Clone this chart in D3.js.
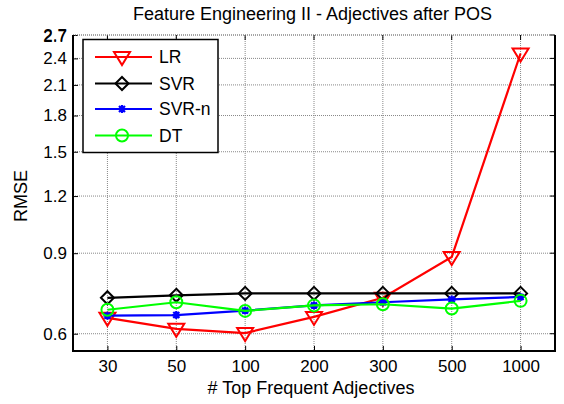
<!DOCTYPE html>
<html><head><meta charset="utf-8">
<script src="https://cdn.jsdelivr.net/npm/d3@7"></script>
<style>body{margin:0;background:#fff}svg{display:block;font-family:"Liberation Sans",Arial,sans-serif}</style>
</head><body><svg id="c" width="564" height="404"></svg>
<script>
const categories = ["30","50","100","200","300","500","1000"];
const yTicks = [0.6,0.9,1.2,1.5,1.8,2.1,2.4,2.7];
const seriesNames = ["LR","SVR","SVR-n","DT"];
const seriesColors = ["#ff0000","#000000","#0000ff","#00ff00"];
const markers = ["triangle","diamond","star","circle"];
const lrValues   = [0.650,0.615,0.602,0.653,0.719,0.883,2.46];
const svrValues  = [0.719,0.728,0.735,0.735,0.735,0.735,0.735];
const svrnValues = [0.657,0.659,0.674,0.692,0.703,0.713,0.722];
const dtValues   = [0.677,0.703,0.673,0.692,0.696,0.681,0.708];
const allValues = [lrValues,svrValues,svrnValues,dtValues];

const svg = d3.select("#c");
const L=73, R=555, T=35, B=351;
const FS = 17;
const x = d3.scalePoint().domain(categories).range([L,R]).padding(0.5);
const y = d3.scaleLog().domain([0.55,2.7]).range([B,T]);

// grid
const g = svg.append("g");
g.selectAll(".gx").data(categories).enter().append("line")
  .attr("x1",d=>x(d)).attr("x2",d=>x(d)).attr("y1",T).attr("y2",B)
  .attr("stroke","#888").attr("stroke-width",1).attr("stroke-dasharray","1,1");
g.selectAll(".gy").data(yTicks).enter().append("line")
  .attr("x1",L).attr("x2",R).attr("y1",d=>y(d)).attr("y2",d=>y(d))
  .attr("stroke","#888").attr("stroke-width",1).attr("stroke-dasharray","1,1");

// axes via d3
const xAxis = d3.axisBottom(x).tickSizeInner(-5).tickSizeOuter(0).tickPadding(9);
const xa = svg.append("g").attr("transform",`translate(0,${B})`).call(xAxis);
xa.select(".domain").remove();
xa.selectAll("line").attr("stroke","#000");
xa.selectAll("text").attr("font-size",FS).attr("fill","#000").attr("font-family","Liberation Sans, Arial");

const yAxis = d3.axisLeft(y).tickValues(yTicks).tickFormat(d3.format(".1f")).tickSizeInner(-5).tickSizeOuter(0).tickPadding(6);
const ya = svg.append("g").attr("transform",`translate(${L},0)`).call(yAxis);
ya.select(".domain").remove();
ya.selectAll("line").attr("stroke","#000");
ya.selectAll("text").attr("font-size",FS).attr("fill","#000").attr("font-family","Liberation Sans, Arial");
// doubled top label look
ya.append("text").attr("x",-6).attr("y",y(2.7)+1.5).attr("dy","0.32em").attr("text-anchor","end")
  .attr("font-size",FS).attr("fill","#000").attr("font-family","Liberation Sans, Arial").text("2.7");

// top ticks and right ticks
svg.append("g").selectAll("line").data(categories).enter().append("line")
  .attr("x1",d=>x(d)).attr("x2",d=>x(d)).attr("y1",T).attr("y2",T+5).attr("stroke","#000");
svg.append("g").selectAll("line").data(yTicks).enter().append("line")
  .attr("x1",R-5).attr("x2",R).attr("y1",d=>y(d)).attr("y2",d=>y(d)).attr("stroke","#000");

// box
svg.append("line").attr("x1",L).attr("x2",R).attr("y1",T).attr("y2",T).attr("stroke","#888").attr("stroke-dasharray","1,1");
svg.append("path").attr("d",`M${L},${T}V${B}H${R}V${T}`).attr("fill","none").attr("stroke","#000").attr("stroke-width",2);

function drawMarker(sel, type, color){
  if(type==="triangle"){
    sel.append("path").attr("d","M-8,-5L8,-5L0,8Z").attr("fill","none").attr("stroke",color).attr("stroke-width",2);
  } else if(type==="diamond"){
    sel.append("path").attr("d","M0,-6.5L6.5,0L0,6.5L-6.5,0Z").attr("fill","none").attr("stroke",color).attr("stroke-width",2);
  } else if(type==="circle"){
    sel.append("circle").attr("r",6).attr("fill","none").attr("stroke",color).attr("stroke-width",2);
  } else {
    sel.append("path").attr("d","M-4,0H4M0,-4V4M-3,-3L3,3M-3,3L3,-3").attr("fill","none").attr("stroke",color).attr("stroke-width",2.2);
  }
}

const line = d3.line().x((d,i)=>x(categories[i])).y(d=>y(d));
allValues.forEach((vals,si)=>{
  svg.append("path").datum(vals).attr("d",line).attr("fill","none")
    .attr("stroke",seriesColors[si]).attr("stroke-width",2.2);
  vals.forEach((v,i)=>{
    const m = svg.append("g").attr("transform",`translate(${x(categories[i])},${y(v)})`);
    drawMarker(m, markers[si], seriesColors[si]);
  });
});

// legend
const lg = svg.append("g");
lg.append("rect").attr("x",83).attr("y",39.5).attr("width",135).attr("height",113)
  .attr("fill","#fff").attr("stroke","#000").attr("stroke-width",1.5);
const legY = [57,83.5,109,135.5];
seriesNames.forEach((n,i)=>{
  lg.append("line").attr("x1",95).attr("x2",152).attr("y1",legY[i]).attr("y2",legY[i])
    .attr("stroke",seriesColors[i]).attr("stroke-width",2.2);
  const m = lg.append("g").attr("transform",`translate(122,${legY[i]})`);
  drawMarker(m, markers[i], seriesColors[i]);
  lg.append("text").attr("x",159).attr("y",legY[i]).attr("dy","0.35em").attr("font-size",17.5).text(n);
});

// title and labels
svg.append("text").attr("x",312.5).attr("y",20).attr("text-anchor","middle").attr("font-size",18)
  .text("Feature Engineering II - Adjectives after POS");
svg.append("text").attr("x",311).attr("y",394).attr("text-anchor","middle").attr("font-size",18)
  .text("# Top Frequent Adjectives");
svg.append("text").attr("transform",`translate(27,196) rotate(-90)`).attr("text-anchor","middle").attr("font-size",18)
  .text("RMSE");
</script></body></html>
